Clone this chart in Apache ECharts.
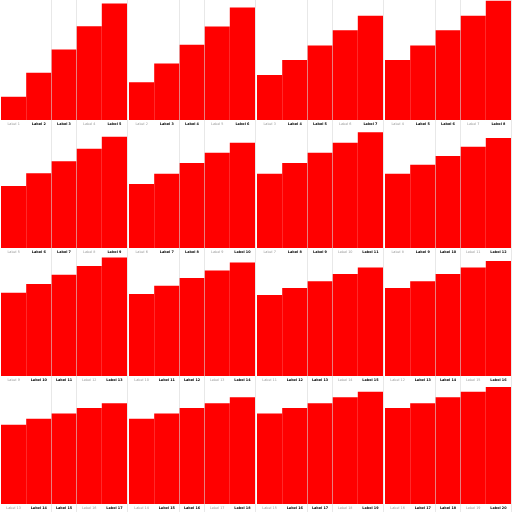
<!DOCTYPE html>
<html>
<head>
<meta charset="UTF-8">
<title>bars</title>
<script src="https://cdn.jsdelivr.net/npm/echarts@6/dist/echarts.min.js"></script>
<style>
body{margin:0;padding:0;background:#fff;}
#main{width:512px;height:512px;}
</style>
</head>
<body>
<div id="main"></div>
<script>
// one running sequence, each small chart shows a window of 5 of it
var labels = ['Label 1','Label 2','Label 3','Label 4','Label 5','Label 6','Label 7','Label 8','Label 9','Label 10',
              'Label 11','Label 12','Label 13','Label 14','Label 15','Label 16','Label 17','Label 18','Label 19','Label 20'];
var values = [1.03, 2.09, 3.12, 4.16, 5.17, 6.23, 7.23, 8.27, 9.28, 10.25,
              11.27, 12.24, 13.2, 14.2, 15.1, 16.0, 16.8, 17.8, 18.7, 19.5];
// y axis top of each panel
var yMax = [5.32, 6.64, 8.32, 8.32, 10, 11.68, 11.68, 13.36, 13.36, 15, 16.7, 16.7, 20, 20, 20, 20];

var chart = echarts.init(document.getElementById('main'));

var grids = [], xAxes = [], yAxes = [], series = [];
var lineColor = 'rgba(205,205,205,0.45)';
function showLine(index){ return index == 2 || index == 3; }

for (var i = 0; i < 16; i++) {
    var r = Math.floor(i / 4), c = i % 4;
    grids.push({left: c * 128 + 1, top: r * 128, width: 126, height: 120});
    xAxes.push({
        type: 'category',
        gridIndex: i,
        z: 5,
        data: labels.slice(i, i + 5),
        axisLine: {show: false},
        axisTick: {show: true, length: 8, interval: showLine, lineStyle: {color: lineColor}},
        splitLine: {show: true, interval: showLine, lineStyle: {color: lineColor, width: 1}},
        axisLabel: {
            interval: 0,
            margin: 3,
            fontSize: 3.4,
            fontFamily: 'DejaVu Sans',
            formatter: function(v, idx){ return (idx == 0 || idx == 3) ? '{g|' + v + '}' : '{b|' + v + '}'; },
            rich: {
                g: {color: '#999', fontSize: 3.4, fontFamily: 'DejaVu Sans'},
                b: {color: '#000', fontSize: 3.4, fontWeight: 'bold', fontFamily: 'DejaVu Sans'}
            }
        }
    });
    yAxes.push({
        type: 'value',
        gridIndex: i,
        min: 0,
        max: yMax[i],
        show: false,
        splitLine: {show: false}
    });
    series.push({
        type: 'bar',
        xAxisIndex: i,
        yAxisIndex: i,
        barCategoryGap: 0,
        itemStyle: {color: '#ff0000'},
        data: values.slice(i, i + 5)
    });
}

chart.setOption({
    animation: false,
    grid: grids,
    xAxis: xAxes,
    yAxis: yAxes,
    series: series
});
</script>
</body>
</html>
